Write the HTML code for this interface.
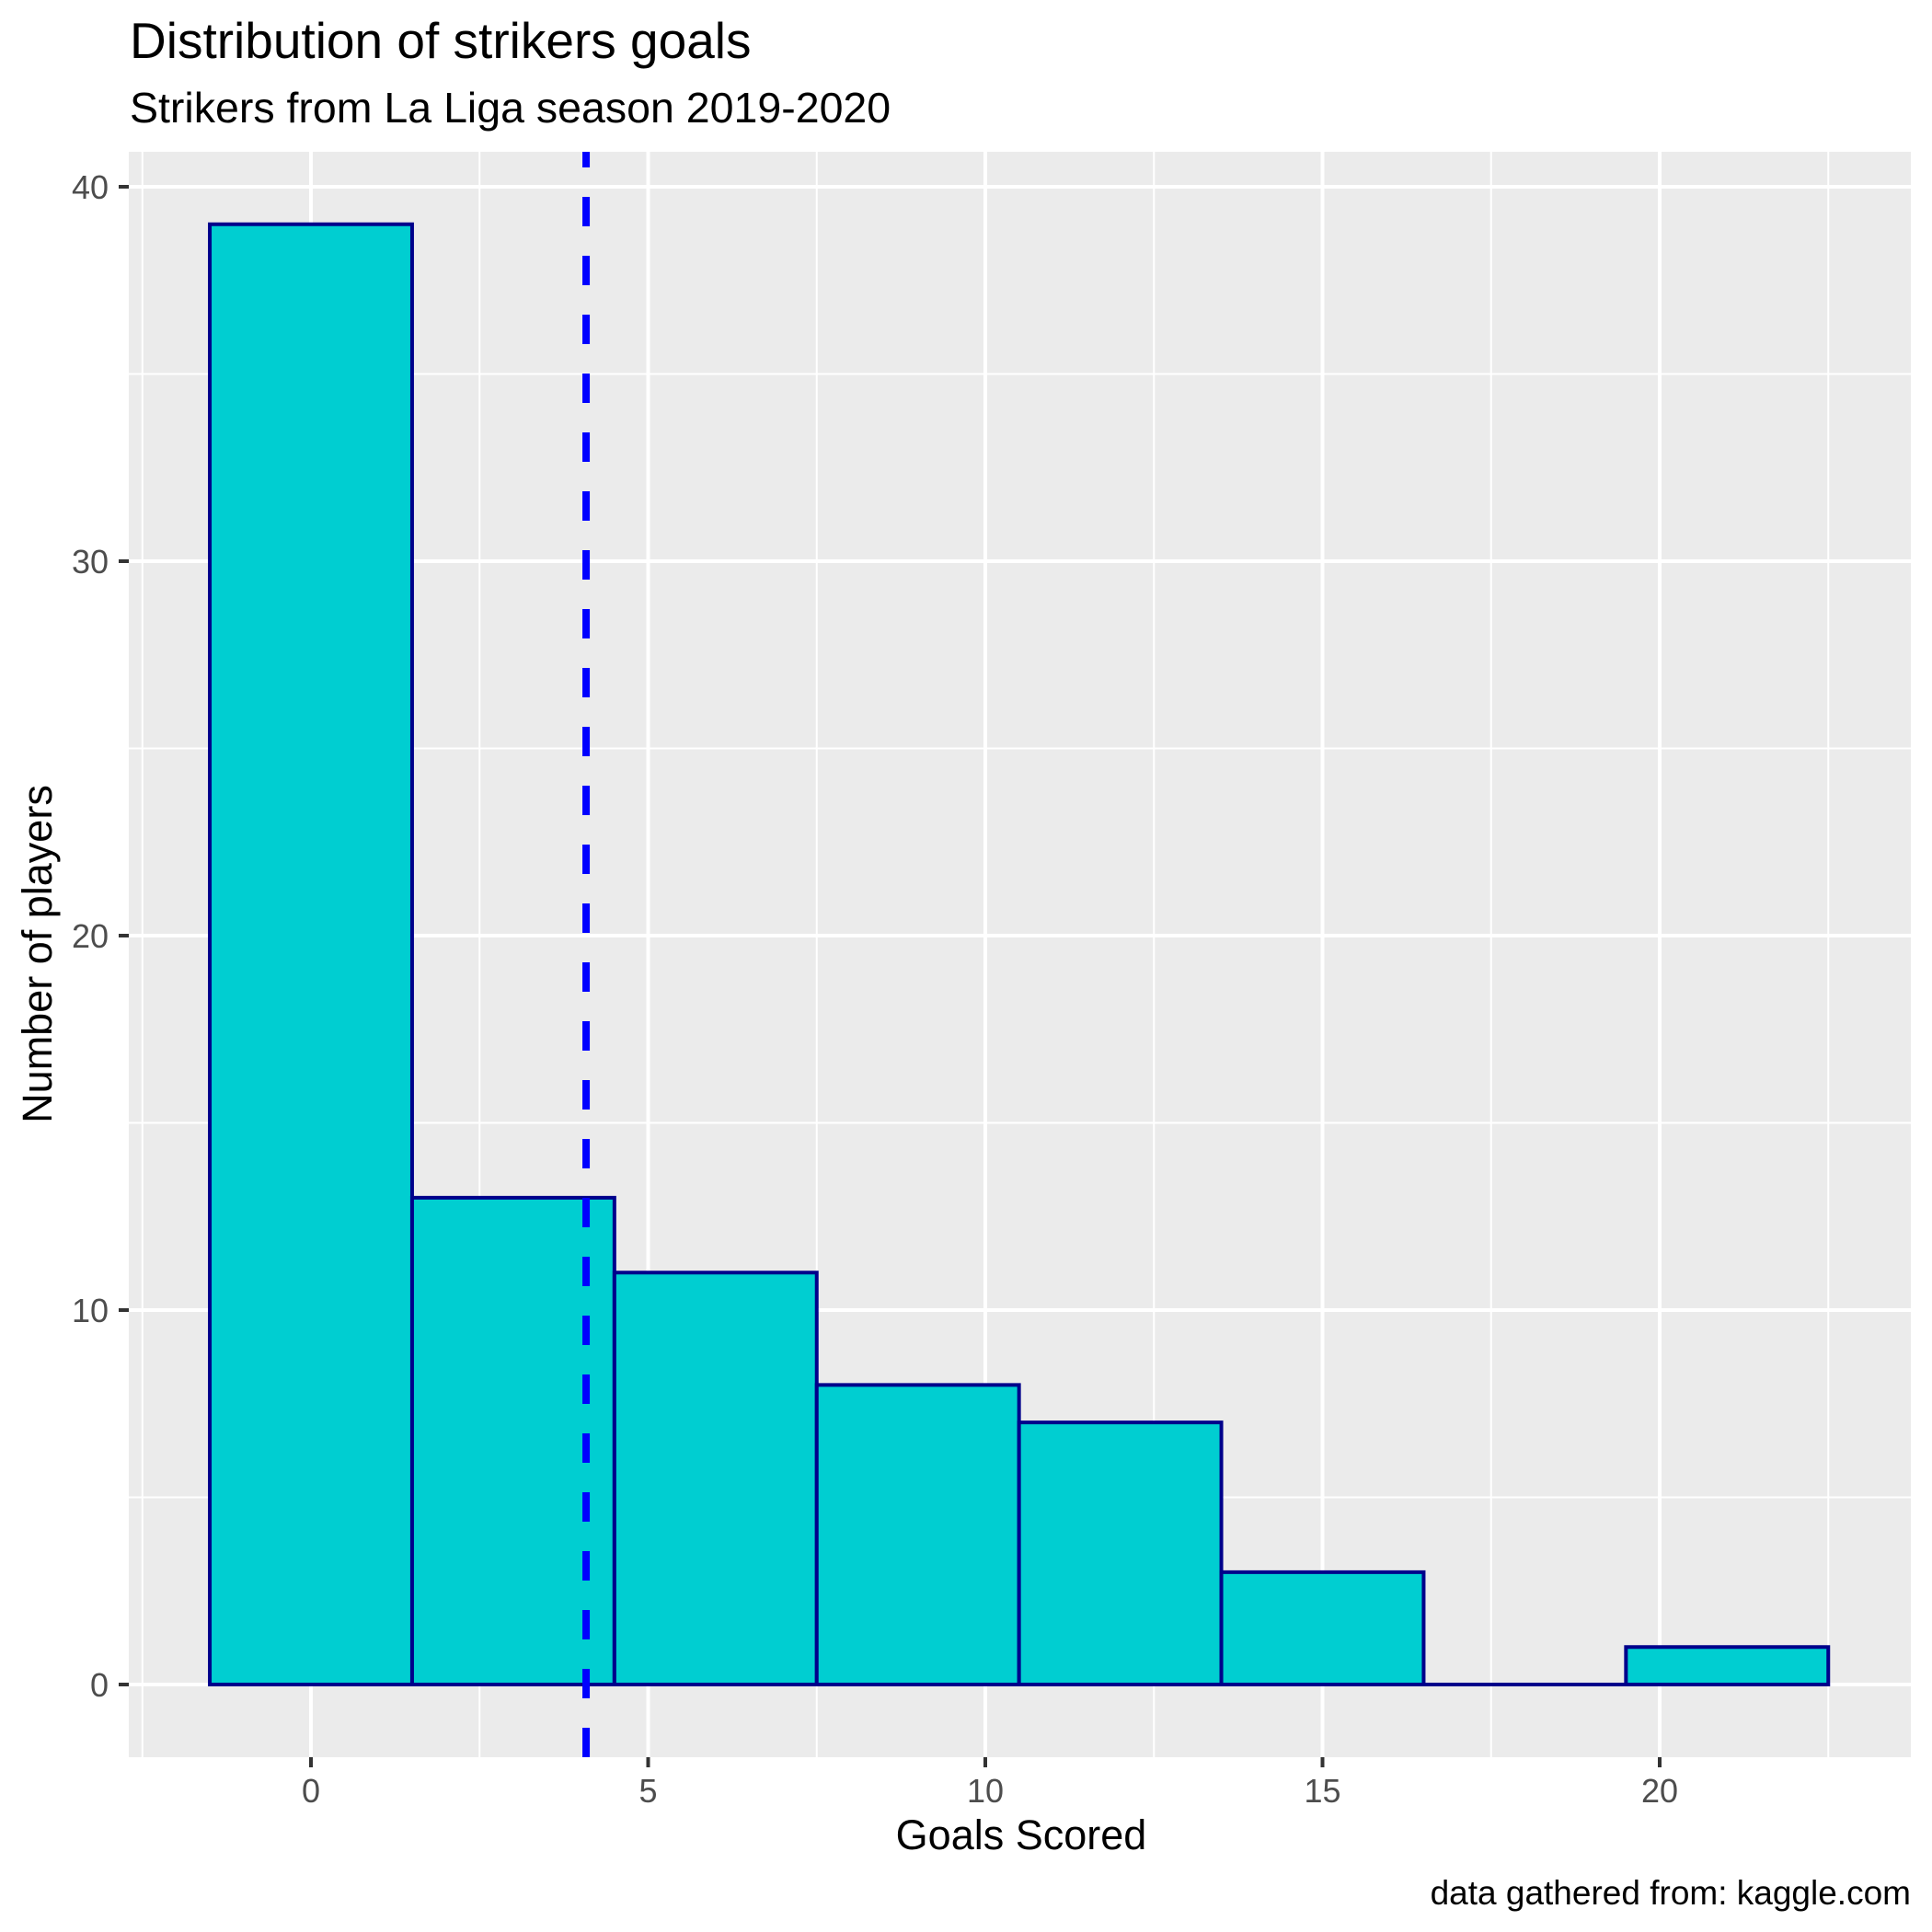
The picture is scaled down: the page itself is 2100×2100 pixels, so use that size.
<!DOCTYPE html>
<html><head><meta charset="utf-8"><style>
html,body{margin:0;padding:0;background:#fff;}
svg{display:block;font-family:"Liberation Sans",Arial,sans-serif;}
</style></head><body>
<svg id="chart" width="2100" height="2100" viewBox="0 0 2100 2100">
<rect x="0" y="0" width="2100" height="2100" fill="#fff"/>
<text x="141" y="63" font-size="55" fill="#000">Distribution of strikers goals</text>
<text x="141" y="133" font-size="46.5" fill="#000">Strikers from La Liga season 2019-2020</text>
<rect x="140" y="165" width="1937" height="1745" fill="#ebebeb"/>
<g id="grid"></g>
<g id="bars"></g>
<g id="meanline"></g>
<g id="axes"></g>
<text x="1110" y="2010" font-size="45" text-anchor="middle" fill="#000">Goals Scored</text>
<text transform="translate(56,1037) rotate(-90)" font-size="45" text-anchor="middle" fill="#000">Number of players</text>
<text x="2077" y="2070" font-size="37" text-anchor="end" fill="#000">data gathered from: kaggle.com</text>
</svg>
<script>
const binCenters = [0, 3, 6, 9, 12, 15, 18, 21];
const counts = [39, 13, 11, 8, 7, 3, 0, 1];
const binWidth = 3;
const meanGoals = [4.08];
const xTicks = [0, 5, 10, 15, 20];
const xMinor = [-2.5, 2.5, 7.5, 12.5, 17.5, 22.5];
const yTicks = [0, 10, 20, 30, 40];
const yMinor = [5, 15, 25, 35];

const PL = 140, PR = 2077, PT = 165, PB = 1910;
function sx(v){ return 338 + v * 73.3; }
function sy(v){ return 1831 - v * 40.7; }
const NS = "http://www.w3.org/2000/svg";
function mk(tag, attrs, parent){
  const e = document.createElementNS(NS, tag);
  for (const k in attrs) e.setAttribute(k, attrs[k]);
  parent.appendChild(e);
  return e;
}
const grid = document.getElementById('grid');
xMinor.forEach(v => {
  const l = mk('line', {x1: sx(v), x2: sx(v), y1: PT, y2: PB, stroke: '#fff', 'stroke-width': 2}, grid);
  
  
});
yMinor.forEach(v => {
  const l = mk('line', {x1: PL, x2: PR, y1: sy(v), y2: sy(v), stroke: '#fff', 'stroke-width': 2}, grid);
  
  
});
xTicks.forEach(v => {
  const l = mk('line', {x1: sx(v), x2: sx(v), y1: PT, y2: PB, stroke: '#fff', 'stroke-width': 4}, grid);
  
  
});
yTicks.forEach(v => {
  const l = mk('line', {x1: PL, x2: PR, y1: sy(v), y2: sy(v), stroke: '#fff', 'stroke-width': 4}, grid);
  
  
});
const bars = document.getElementById('bars');
binCenters.forEach((c, i) => {
  const x0 = sx(c - binWidth/2), x1 = sx(c + binWidth/2);
  const y0 = sy(counts[i]), yb = sy(0);
  const d = 'M' + x0 + ' ' + yb + ' L' + x0 + ' ' + y0 + ' L' + x1 + ' ' + y0 + ' L' + x1 + ' ' + yb + ' Z';
  const r = mk('path', {d: d, fill: '#00CED1', stroke: '#00008B', 'stroke-width': 4}, bars);
  
  
});
const ml = document.getElementById('meanline');
meanGoals.forEach(m => {
  const l = mk('line', {x1: sx(m), x2: sx(m), y1: PT, y2: PB, stroke: '#0000FF', 'stroke-width': 8, 'stroke-dasharray': '32 32', 'stroke-dashoffset': 15}, ml);
  
  
});
const axes = document.getElementById('axes');
xTicks.forEach(v => {
  const t = mk('line', {x1: sx(v), x2: sx(v), y1: PB, y2: PB + 11, stroke: '#333', 'stroke-width': 4}, axes);
  
  
  const tx = mk('text', {x: sx(v), y: 1959, 'font-size': 36, 'text-anchor': 'middle', fill: '#4d4d4d'}, axes);
  tx.textContent = String(v);
  
  
});
yTicks.forEach(v => {
  const t = mk('line', {x1: PL - 11, x2: PL, y1: sy(v), y2: sy(v), stroke: '#333', 'stroke-width': 4}, axes);
  
  
  const tx = mk('text', {x: 118, y: sy(v) + 13, 'font-size': 36, 'text-anchor': 'end', fill: '#4d4d4d'}, axes);
  tx.textContent = String(v);
  
  
});
</script>
</body></html>
